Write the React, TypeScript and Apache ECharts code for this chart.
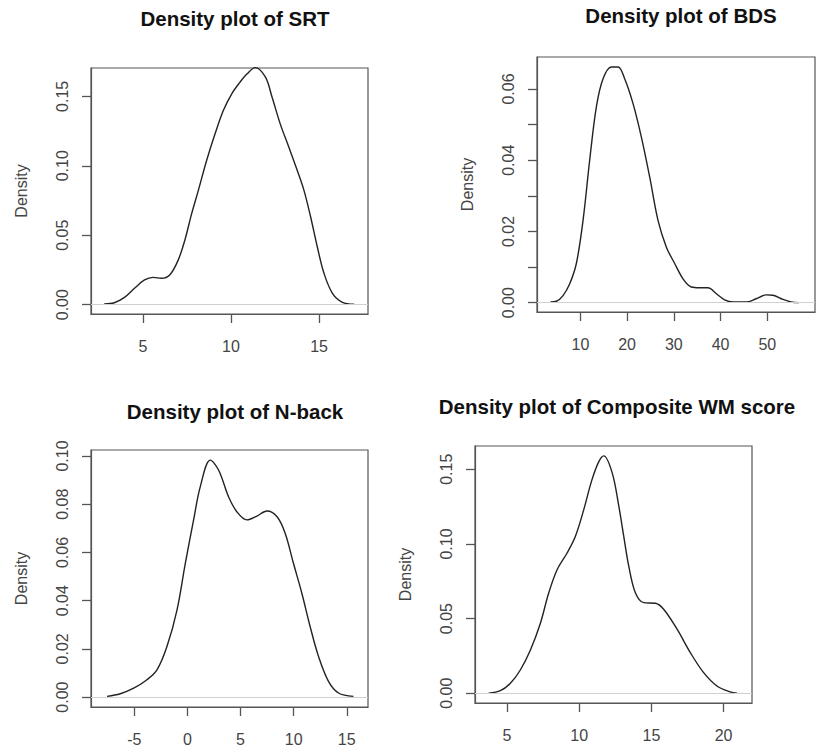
import React, { useEffect, useRef } from "react";
import * as echarts from "echarts";

// ---- data ----
const srtX = [2.8, 3.37, 3.95, 4.52, 5.09, 5.57, 6.05, 6.52, 7.0, 7.38, 7.77, 8.15, 8.62, 9.1, 9.57, 10.05, 10.5, 10.9, 11.37, 11.95, 12.33, 12.8, 13.28, 13.76, 14.14, 14.52, 14.9, 15.28, 15.76, 16.33, 16.99];
const srtY = [0.0005, 0.0014, 0.0053, 0.0118, 0.0178, 0.0197, 0.019, 0.0214, 0.0321, 0.0465, 0.0657, 0.0825, 0.104, 0.1232, 0.14, 0.152, 0.16, 0.166, 0.1707, 0.164, 0.1495, 0.13, 0.1136, 0.0968, 0.0825, 0.0633, 0.0417, 0.0226, 0.0082, 0.0017, 0.0003];

const bdsX = [3.58, 4.87, 6.29, 7.72, 9.14, 10.57, 11.99, 13.42, 14.85, 16.63, 18.06, 19.48, 21.27, 23.05, 24.83, 26.61, 28.4, 30.18, 31.96, 33.74, 35.5, 37.3, 39.1, 40.87, 42.66, 45.5, 47.6, 49.8, 51.2, 53.35, 55.1, 56.8];
const bdsY = [0.0002, 0.0004, 0.002, 0.0053, 0.011, 0.0231, 0.04, 0.055, 0.0629, 0.0662, 0.0662, 0.0629, 0.0559, 0.0465, 0.0353, 0.0231, 0.0156, 0.011, 0.0067, 0.0044, 0.0042, 0.0042, 0.0025, 0.0008, 0.0002, 0.0002, 0.0011, 0.0022, 0.0021, 0.0009, 0.0002, 0];

const nbackX = [-7.57, -6.32, -5.06, -3.81, -2.87, -1.93, -0.99, -0.2, 0.58, 1.21, 2.15, 2.93, 3.87, 4.65, 5.6, 6.54, 7.48, 8.42, 9.2, 9.98, 10.77, 11.55, 12.34, 13.28, 14.22, 15.63];
const nbackY = [0.0003, 0.0014, 0.0037, 0.0072, 0.0113, 0.021, 0.036, 0.0555, 0.0735, 0.0873, 0.0983, 0.0942, 0.0831, 0.0769, 0.0735, 0.0751, 0.0772, 0.0749, 0.068, 0.0555, 0.0431, 0.0293, 0.0169, 0.0065, 0.0017, 0.0003];

const compX = [3.73, 4.54, 5.23, 5.92, 6.62, 7.31, 7.88, 8.46, 9.15, 9.73, 10.31, 10.88, 11.35, 11.7, 12.28, 12.74, 13.08, 13.43, 13.89, 14.47, 15.28, 15.85, 16.78, 17.7, 18.62, 19.54, 20.46, 20.93];
const compY = [0, 0.0018, 0.0067, 0.0156, 0.029, 0.0469, 0.067, 0.0826, 0.0938, 0.105, 0.1228, 0.1429, 0.155, 0.159, 0.1478, 0.1255, 0.1054, 0.0853, 0.0674, 0.0607, 0.0603, 0.0563, 0.0429, 0.0272, 0.0138, 0.0049, 0.0009, 0];

const titles = ["Density plot of SRT", "Density plot of BDS", "Density plot of N-back", "Density plot of Composite WM score"];
const xTicks = [[5, 10, 15], [10, 20, 30, 40, 50], [-5, 0, 5, 10, 15], [5, 10, 15, 20]];
const yTickMarks = [
  [0, 0.05, 0.1, 0.15],
  [0, 0.01, 0.02, 0.03, 0.04, 0.05, 0.06],
  [0, 0.02, 0.04, 0.06, 0.08, 0.1],
  [0, 0.05, 0.1, 0.15],
];
const yTickLabels = [
  [0, 0.05, 0.1, 0.15],
  [0, 0.02, 0.04, 0.06],
  [0, 0.02, 0.04, 0.06, 0.08, 0.1],
  [0, 0.05, 0.1, 0.15],
];
const yName = "Density";

// ---- layout ----
const FONT = "'Liberation Sans', Arial, sans-serif";
const AXIS_COLOR = "#555";
const grids = [
  { left: 91, top: 68, width: 277, height: 246 },
  { left: 537, top: 57, width: 278, height: 255 },
  { left: 91, top: 450, width: 277, height: 257 },
  { left: 475, top: 446, width: 277, height: 257 },
];
const xRanges = [[2.05, 17.78], [0.72, 60.2], [-9.08, 17.0], [2.78, 21.97]];
const yRanges = [[-0.0067, 0.1704], [-0.00262, 0.069], [-0.0041, 0.1025], [-0.0065, 0.1656]];
const titlePos = [[230, 18], [676, 15], [230, 411], [612, 406]];

export default function App() {
  const ref = useRef<HTMLDivElement>(null);
  useEffect(() => {
    if (!ref.current) return;
    const chart = echarts.init(ref.current, null, { renderer: "svg" });
    const xs = [srtX, bdsX, nbackX, compX];
    const ys = [srtY, bdsY, nbackY, compY];
    const option: any = {
      animation: false,
      backgroundColor: "#ffffff",
      title: titles.map((t, i) => ({
        text: t,
        left: titlePos[i][0],
        top: titlePos[i][1] - 15,
        textAlign: "center",
        textStyle: { fontFamily: FONT, fontSize: 20.5, fontWeight: "bold", color: "#111" },
      })),
      grid: grids.map((g) => ({ ...g, show: true, borderColor: AXIS_COLOR, borderWidth: 1.2, backgroundColor: "transparent" })),
      xAxis: grids.map((_, i) => ({
        type: "value",
        gridIndex: i,
        position: "bottom",
        min: xRanges[i][0],
        max: xRanges[i][1],
        axisLine: { show: true, onZero: false, lineStyle: { color: AXIS_COLOR, width: 1.2 } },
        splitLine: { show: false },
        axisTick: { show: true, inside: false, length: 9, lineStyle: { color: AXIS_COLOR, width: 1.3 }, customValues: xTicks[i] },
        axisLabel: {
          show: true,
          margin: 24,
          customValues: xTicks[i],
          fontFamily: FONT,
          fontSize: 16,
          color: "#444",
          formatter: (v: number) => String(v),
        },
      })),
      yAxis: grids.map((_, i) => ({
        type: "value",
        gridIndex: i,
        min: yRanges[i][0],
        max: yRanges[i][1],
        name: yName,
        nameLocation: "middle",
        nameGap: 62,
        nameTextStyle: { fontFamily: FONT, fontSize: 16, color: "#444" },
        axisLine: { show: true, onZero: false, lineStyle: { color: AXIS_COLOR, width: 1.2 } },
        splitLine: { show: false },
        axisTick: { show: true, inside: false, length: 9, lineStyle: { color: AXIS_COLOR, width: 1.3 }, customValues: yTickMarks[i] },
        axisLabel: {
          show: true,
          rotate: 90,
          margin: 21,
          customValues: yTickLabels[i],
          fontFamily: FONT,
          fontSize: 16,
          color: "#444",
          formatter: (v: number) => v.toFixed(2),
        },
      })),
      series: xs.map((xa, i) => ({
        type: "line",
        xAxisIndex: i,
        yAxisIndex: i,
        data: xa.map((x, k) => [x, ys[i][k]]),
        showSymbol: false,
        smooth: 0.35,
        clip: false,
        lineStyle: { color: "#222", width: 1.4 },
        markLine: {
          silent: true,
          symbol: "none",
          label: { show: false },
          lineStyle: { color: "#d0d0d0", type: "solid", width: 1.2 },
          data: [{ yAxis: 0 }],
        },
      })),
    };
    chart.setOption(option);
    return () => chart.dispose();
  }, []);
  return <div ref={ref} style={{ position: "absolute", left: 0, top: 0, width: 827, height: 749 }} />;
}
